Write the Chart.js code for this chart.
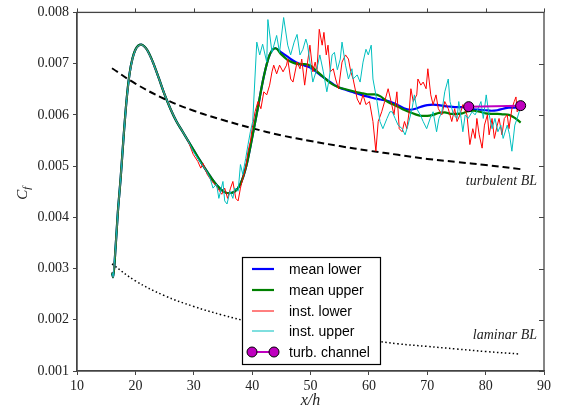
<!DOCTYPE html>
<html>
<head>
<meta charset="utf-8">
<script src="https://cdn.jsdelivr.net/npm/chart.js@4/dist/chart.umd.min.js"></script>
<style>
html,body{margin:0;padding:0;background:#fff;}
#wrap{width:565px;height:409px;}
</style>
</head>
<body>
<div id="wrap"><canvas id="c" width="565" height="409"></canvas></div>
<script>
// ---------- data ----------
// shared start of all four Cf curves (they coincide here)
const earlyX  = [16.0, 16.2, 16.6, 17.0, 17.5, 18.0, 18.5, 19.0, 19.5, 20.0, 20.5, 21.0, 21.5, 22.0, 23.0, 24.0, 25.0, 26.0, 27.0, 28.0, 29.0];
const earlyCf = [0.00292, 0.00283, 0.0034, 0.0041, 0.0048, 0.0056, 0.0063, 0.0068, 0.0071, 0.00727, 0.00735, 0.00737, 0.00734, 0.00727, 0.00703, 0.00672, 0.00640, 0.00612, 0.00588, 0.00569, 0.00550];

// mean curves after x = 29
const meanTailX     = [30, 31, 32, 33, 34, 35, 36, 37, 38, 39, 40, 41, 42, 43, 44, 45, 46, 47, 48, 49, 50, 51, 52, 53, 54, 55, 56, 57, 58, 59, 60, 61, 62, 63, 64, 65, 66, 67, 68, 69, 70, 71, 72, 73, 74, 75, 76, 77, 78, 79, 80, 81, 82, 83, 84, 85, 86];
const meanLowerTail = [0.00531, 0.00512, 0.00494, 0.00477, 0.00462, 0.00451, 0.00447, 0.00450, 0.00465, 0.00500, 0.00555, 0.00615, 0.00675, 0.00717, 0.00730, 0.00722, 0.00714, 0.00706, 0.00700, 0.00696, 0.00692, 0.00684, 0.00675, 0.00667, 0.00659, 0.00653, 0.00649, 0.00645, 0.00642, 0.00638, 0.00635, 0.00632, 0.00630, 0.00628, 0.00624, 0.00619, 0.00613, 0.00610, 0.00612, 0.00616, 0.00619, 0.00620, 0.00619, 0.00617, 0.00616, 0.00615, 0.00615, 0.00613, 0.00611, 0.00610, 0.00609, 0.00608, 0.00609, 0.00612, 0.00614, 0.00614, 0.00615];
const meanUpperTail = [0.00531, 0.00512, 0.00494, 0.00477, 0.00462, 0.00451, 0.00447, 0.00450, 0.00465, 0.00500, 0.00555, 0.00615, 0.00675, 0.00717, 0.00730, 0.00718, 0.00708, 0.00702, 0.00699, 0.00699, 0.00696, 0.00686, 0.00676, 0.00666, 0.00658, 0.00653, 0.00650, 0.00647, 0.00644, 0.00642, 0.00640, 0.00640, 0.00636, 0.00627, 0.00621, 0.00616, 0.00610, 0.00605, 0.00601, 0.00598, 0.00598, 0.00600, 0.00604, 0.00605, 0.00602, 0.00602, 0.00603, 0.00607, 0.00608, 0.00606, 0.00603, 0.00602, 0.00602, 0.00601, 0.00600, 0.00594, 0.00585];

// instantaneous lower wall after x = 29
const instLowerX  = [29.9, 30.7, 31.2, 31.6, 32.3, 33.1, 33.6, 34.1, 34.8, 35.3, 35.8, 36.3, 36.7, 37.2, 37.6, 38.0, 38.4, 38.9, 39.3, 39.7, 40.0, 40.5, 41.0, 41.5, 42.0, 42.5, 43.0, 43.4, 43.7, 44.2, 44.7, 45.3, 45.9, 46.1, 46.6, 47.0, 47.7, 48.2, 48.5, 49.0, 49.5, 49.9, 50.4, 50.8, 51.1, 51.5, 52.0, 52.3, 52.7, 53.0, 53.4, 53.9, 54.3, 54.8, 55.4, 56.0, 56.5, 56.9, 57.3, 58.0, 58.5, 59.0, 59.5, 60.1, 60.7, 61.2, 61.6, 62.2, 62.7, 63.3, 63.8, 64.3, 64.8, 65.2, 65.7, 66.1, 66.5, 66.9, 67.2, 67.6, 68.2, 68.4, 68.9, 69.3, 69.8, 70.1, 70.6, 71.0, 71.5, 71.9, 72.5, 73.0, 73.6, 74.2, 74.7, 75.1, 75.6, 76.1, 76.8, 77.3, 77.8, 78.2, 78.5, 78.9, 79.4, 79.8, 80.3, 80.6, 81.1, 81.5, 82.0, 82.3, 82.8, 83.2, 83.7, 84.0, 84.5, 84.9, 85.2, 85.4, 85.7];
const instLowerCf = [0.00523, 0.00509, 0.00496, 0.00505, 0.00484, 0.00470, 0.00465, 0.00457, 0.00445, 0.00457, 0.00437, 0.00457, 0.00470, 0.00437, 0.00432, 0.00457, 0.00476, 0.00496, 0.00529, 0.00548, 0.00573, 0.00606, 0.00626, 0.00612, 0.00645, 0.00639, 0.00658, 0.00684, 0.00697, 0.00680, 0.00697, 0.00684, 0.00697, 0.00709, 0.00670, 0.00664, 0.00703, 0.00690, 0.00709, 0.00658, 0.00703, 0.00736, 0.00684, 0.00703, 0.00684, 0.00767, 0.00736, 0.00761, 0.00717, 0.00736, 0.00684, 0.00690, 0.00670, 0.00651, 0.00703, 0.00717, 0.00709, 0.00684, 0.00670, 0.00631, 0.00620, 0.00639, 0.00620, 0.00626, 0.00587, 0.00529, 0.00587, 0.00606, 0.00626, 0.00651, 0.00626, 0.00600, 0.00645, 0.00573, 0.00567, 0.00587, 0.00573, 0.00606, 0.00651, 0.00626, 0.00639, 0.00670, 0.00658, 0.00664, 0.00651, 0.00690, 0.00639, 0.00620, 0.00639, 0.00612, 0.00600, 0.00626, 0.00612, 0.00587, 0.00612, 0.00587, 0.00600, 0.00620, 0.00600, 0.00542, 0.00573, 0.00554, 0.00593, 0.00561, 0.00535, 0.00580, 0.00600, 0.00561, 0.00593, 0.00554, 0.00580, 0.00593, 0.00561, 0.00593, 0.00600, 0.00573, 0.00612, 0.00626, 0.00635, 0.00606, 0.00612];

// instantaneous upper wall after x = 29
const instUpperX  = [29.9, 30.7, 31.4, 32.2, 32.8, 33.3, 33.9, 34.3, 35.0, 35.3, 35.7, 36.2, 36.7, 37.0, 37.6, 38.0, 38.4, 38.9, 39.3, 39.7, 40.1, 40.8, 41.3, 41.8, 42.5, 42.7, 43.4, 44.2, 44.7, 45.4, 46.1, 46.6, 47.2, 47.7, 48.2, 48.7, 49.2, 49.5, 49.9, 50.4, 51.1, 51.6, 52.2, 52.8, 53.2, 53.7, 54.1, 54.6, 55.1, 55.4, 56.0, 56.5, 57.1, 57.3, 58.0, 58.5, 59.0, 59.5, 59.9, 60.4, 60.7, 61.4, 61.9, 62.4, 63.1, 63.6, 64.0, 64.5, 65.0, 65.7, 66.2, 66.7, 67.4, 67.8, 68.2, 68.8, 69.3, 69.9, 70.5, 71.0, 71.6, 72.0, 72.5, 73.0, 73.6, 73.9, 74.5, 75.1, 75.4, 75.8, 76.1, 76.5, 77.0, 77.7, 78.2, 78.7, 79.2, 79.6, 80.1, 80.5, 81.1, 81.6, 82.1, 82.6, 83.0, 83.7, 84.1, 84.5, 85.0, 85.4, 85.9];
const instUpperCf = [0.00529, 0.00515, 0.00503, 0.00490, 0.00476, 0.00457, 0.00465, 0.00437, 0.00470, 0.00432, 0.00426, 0.00451, 0.00437, 0.00457, 0.00451, 0.00503, 0.00484, 0.00515, 0.00542, 0.00567, 0.00587, 0.00742, 0.00717, 0.00738, 0.00703, 0.00786, 0.00722, 0.00755, 0.00722, 0.00790, 0.00736, 0.00717, 0.00742, 0.00757, 0.00717, 0.00728, 0.00748, 0.00736, 0.00703, 0.00664, 0.00690, 0.00717, 0.00684, 0.00645, 0.00670, 0.00717, 0.00722, 0.00688, 0.00709, 0.00742, 0.00697, 0.00670, 0.00690, 0.00670, 0.00678, 0.00664, 0.00703, 0.00728, 0.00717, 0.00736, 0.00670, 0.00626, 0.00587, 0.00573, 0.00593, 0.00606, 0.00606, 0.00593, 0.00580, 0.00573, 0.00561, 0.00580, 0.00612, 0.00639, 0.00612, 0.00600, 0.00587, 0.00573, 0.00593, 0.00606, 0.00567, 0.00593, 0.00606, 0.00645, 0.00670, 0.00626, 0.00600, 0.00593, 0.00626, 0.00593, 0.00567, 0.00600, 0.00593, 0.00606, 0.00600, 0.00612, 0.00626, 0.00593, 0.00639, 0.00606, 0.00573, 0.00593, 0.00567, 0.00580, 0.00554, 0.00580, 0.00561, 0.00529, 0.00580, 0.00593, 0.00612];

// turbulent channel reference
const turbX  = [77.1, 86.0];
const turbCf = [0.00616, 0.00618];

// boundary-layer correlations
const blX      = [16, 20, 25, 30, 35, 40, 45, 50, 55, 60, 65, 70, 75, 80, 86];
const turbBLCf = [0.00691, 0.00661, 0.00631, 0.00608, 0.00590, 0.00574, 0.00560, 0.00549, 0.00539, 0.00530, 0.00522, 0.00514, 0.00508, 0.00502, 0.00494];
const lamBLCf  = [0.00309, 0.00276, 0.00247, 0.00226, 0.00209, 0.00195, 0.00184, 0.00175, 0.00167, 0.00160, 0.00153, 0.00148, 0.00143, 0.00138, 0.00133];

// axis ticks
const xTicks = [10, 20, 30, 40, 50, 60, 70, 80, 90];
const yTicks = [0.001, 0.002, 0.003, 0.004, 0.005, 0.006, 0.007, 0.008];

// labels
const seriesNames = ['mean lower', 'mean upper', 'inst. lower', 'inst. upper', 'turb. channel'];
const noteText = ['turbulent BL', 'laminar BL'];
const noteX    = [88.8, 88.8];
const noteCf   = [0.00470, 0.00170];

// ---------- build ----------
const pts = (xs, ys) => xs.map((v, i) => ({x: v, y: ys[i]}));
const meanX = earlyX.concat(meanTailX);

const COL = {blue:'#0000ff', green:'#008000', red:'#ff0000', cyan:'#00bfbf', mag:'#bf00bf'};
const serif = '"Liberation Serif", "DejaVu Serif", serif';
const sans  = '"Liberation Sans", Arial, sans-serif';

// "order": larger values are drawn first (underneath)
const datasets = [
  {label:'turbBL', order:7, data: pts(blX, turbBLCf), borderColor:'#000', borderWidth:2, borderDash:[7,4], pointRadius:0, tension:0.4},
  {label:'lamBL', order:6, data: pts(blX, lamBLCf), borderColor:'#000', borderWidth:1.5, borderDash:[1.5,2.5], pointRadius:0, tension:0.4},
  {label:seriesNames[0], order:5, data: pts(meanX, earlyCf.concat(meanLowerTail)), borderColor:COL.blue, borderWidth:2.2, pointRadius:0, cubicInterpolationMode:'monotone'},
  {label:seriesNames[1], order:4, data: pts(meanX, earlyCf.concat(meanUpperTail)), borderColor:COL.green, borderWidth:2.2, pointRadius:0, cubicInterpolationMode:'monotone'},
  {label:seriesNames[2], order:3, data: pts(earlyX.concat(instLowerX), earlyCf.concat(instLowerCf)), borderColor:COL.red, borderWidth:1, pointRadius:0, tension:0},
  {label:seriesNames[3], order:2, data: pts(earlyX.concat(instUpperX), earlyCf.concat(instUpperCf)), borderColor:COL.cyan, borderWidth:1, pointRadius:0, tension:0},
  {label:seriesNames[4], order:1, data: pts(turbX, turbCf), borderColor:COL.mag, borderWidth:2, pointRadius:5, pointBackgroundColor:COL.mag, pointBorderColor:'#000', pointBorderWidth:1},
];

const deco = {
  id: 'deco',
  afterDraw(chart) {
    const {ctx, chartArea: a, scales: {x, y}} = chart;
    ctx.save();
    // frame
    ctx.strokeStyle = '#444'; ctx.lineWidth = 1.3;
    ctx.strokeRect(a.left, a.top, a.right - a.left, a.bottom - a.top);
    ctx.lineWidth = 1;
    ctx.beginPath();
    xTicks.forEach(t => { const px = Math.round(x.getPixelForValue(t)) + 0.5; ctx.moveTo(px, a.top); ctx.lineTo(px, a.top - 4); });
    yTicks.forEach(t => { const py = Math.round(y.getPixelForValue(t)) + 0.5; ctx.moveTo(a.right, py); ctx.lineTo(a.right - 5, py); });
    ctx.stroke();

    // annotations
    ctx.fillStyle = '#222';
    ctx.font = 'italic 14px ' + serif;
    ctx.textAlign = 'right'; ctx.textBaseline = 'middle';
    noteText.forEach((t, i) => ctx.fillText(t, x.getPixelForValue(noteX[i]), y.getPixelForValue(noteCf[i])));

    // axis titles
    ctx.font = 'italic 16px ' + serif;
    ctx.textAlign = 'center'; ctx.textBaseline = 'middle';
    ctx.fillText('x/h', (a.left + a.right) / 2, 401);
    ctx.save();
    ctx.translate(22, (a.top + a.bottom) / 2);
    ctx.rotate(-Math.PI / 2);
    ctx.textAlign = 'left'; ctx.textBaseline = 'alphabetic';
    ctx.font = 'italic 15px ' + serif;
    ctx.fillText('C', -8, 5);
    const cw = ctx.measureText('C').width;
    ctx.font = 'italic 11px ' + serif;
    ctx.fillText('f', -8 + cw, 8);
    ctx.restore();

    // legend
    const L = 242, T = 257, R = 380, B = 364;
    ctx.fillStyle = '#fff';
    ctx.fillRect(L, T, R - L, B - T);
    ctx.strokeStyle = '#000'; ctx.lineWidth = 1.2;
    ctx.strokeRect(L + 0.5, T + 0.5, R - L, B - T);
    const rows = [269, 290, 311, 331, 352];
    const styles = [[COL.blue, 2.2], [COL.green, 2.2], [COL.red, 1], [COL.cyan, 1], [COL.mag, 2]];
    ctx.font = '14px ' + sans;
    ctx.textAlign = 'left'; ctx.textBaseline = 'middle';
    rows.forEach((ry, i) => {
      ctx.strokeStyle = styles[i][0]; ctx.lineWidth = styles[i][1];
      ctx.beginPath(); ctx.moveTo(252, ry); ctx.lineTo(274, ry); ctx.stroke();
      if (i === 4) {
        [252, 274].forEach(cx => {
          ctx.beginPath(); ctx.arc(cx, ry, 5, 0, Math.PI * 2);
          ctx.fillStyle = COL.mag; ctx.fill();
          ctx.strokeStyle = '#000'; ctx.lineWidth = 1; ctx.stroke();
        });
      }
      ctx.fillStyle = '#000';
      ctx.fillText(seriesNames[i], 289, ry + 1);
    });
    ctx.restore();
  }
};

new Chart(document.getElementById('c'), {
  type: 'line',
  data: {datasets},
  options: {
    responsive: false,
    animation: false,
    devicePixelRatio: 1,
    layout: {padding: {top: 10, right: 21, left: 0, bottom: 0}},
    plugins: {legend: {display: false}, tooltip: {enabled: false}},
    scales: {
      x: {
        type: 'linear', min: 10, max: 90,
        afterFit: s => { s.height = 38; },
        afterBuildTicks: s => { s.ticks = xTicks.map(v => ({value: v})); },
        ticks: {font: {family: serif, size: 14}, color: '#222', padding: 3, maxRotation: 0},
        grid: {drawOnChartArea: false, tickLength: 4, color: '#444'},
        border: {color: '#444', width: 1.3}
      },
      y: {
        type: 'linear', min: 0.001, max: 0.008,
        afterFit: s => { s.width = 77; },
        afterBuildTicks: s => { s.ticks = yTicks.map(v => ({value: v})); },
        ticks: {font: {family: serif, size: 14}, color: '#222', padding: 4, callback: v => v.toFixed(3)},
        grid: {drawOnChartArea: false, tickLength: 4, color: '#444'},
        border: {color: '#444', width: 1.3}
      }
    }
  },
  plugins: [deco]
});
</script>
</body>
</html>
